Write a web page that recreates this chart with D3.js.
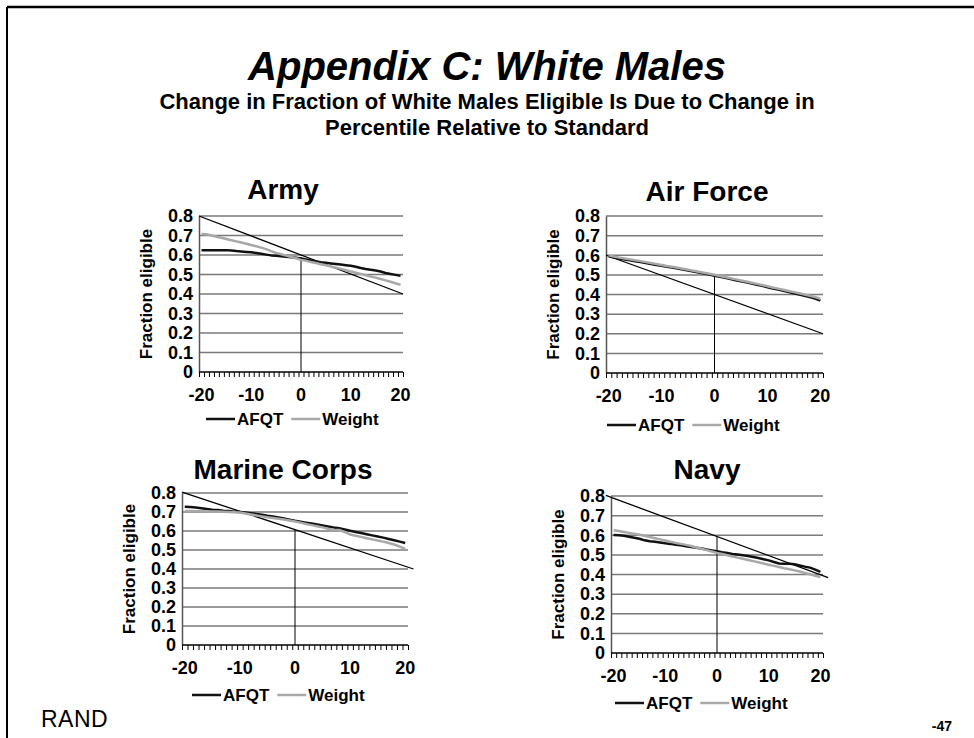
<!DOCTYPE html>
<html>
<head>
<meta charset="utf-8">
<script src="https://cdn.jsdelivr.net/npm/d3@7/dist/d3.min.js"></script>
<style>
  body { margin: 0; background: #fff; }
  svg { display: block; font-family: "Liberation Sans", Arial, sans-serif; }
</style>
</head>
<body>
<div id="chart"></div>
<script>
// Percentile relative to standard (category axis)
const categories = [-20, -19, -18, -17, -16, -15, -14, -13, -12, -11, -10, -9, -8, -7, -6, -5, -4, -3, -2, -1,
    0, 1, 2, 3, 4, 5, 6, 7, 8, 9, 10, 11, 12, 13, 14, 15, 16, 17, 18, 19, 20];
const xTickLabels = [-20, -10, 0, 10, 20];
const yTicks = [0, 0.1, 0.2, 0.3, 0.4, 0.5, 0.6, 0.7, 0.8];
const seriesNames = ['AFQT', 'Weight'];

// Army
const armyAfqt = [0.625, 0.625, 0.625, 0.625, 0.625, 0.625, 0.623, 0.620, 0.618, 0.616, 0.614, 0.610, 0.606, 0.602, 0.598, 0.596, 0.594, 0.591, 0.589, 0.586,
    0.582, 0.577, 0.572, 0.567, 0.563, 0.560, 0.557, 0.554, 0.551, 0.548, 0.545, 0.540, 0.533, 0.528, 0.524, 0.520, 0.515, 0.508, 0.503, 0.498, 0.493];
const armyWeight = [0.708, 0.706, 0.700, 0.694, 0.688, 0.682, 0.676, 0.670, 0.664, 0.658, 0.651, 0.645, 0.638, 0.630, 0.620, 0.611, 0.604, 0.597, 0.590, 0.583,
    0.575, 0.570, 0.564, 0.559, 0.553, 0.547, 0.541, 0.535, 0.529, 0.522, 0.515, 0.509, 0.503, 0.496, 0.490, 0.484, 0.477, 0.470, 0.463, 0.455, 0.447];

// Air Force
const airAfqt = [0.595, 0.588, 0.583, 0.578, 0.574, 0.569, 0.565, 0.560, 0.555, 0.550, 0.546, 0.541, 0.537, 0.532, 0.527, 0.522, 0.517, 0.512, 0.507, 0.502,
    0.496, 0.490, 0.485, 0.479, 0.473, 0.467, 0.462, 0.456, 0.450, 0.444, 0.437, 0.431, 0.425, 0.419, 0.412, 0.406, 0.400, 0.394, 0.387, 0.379, 0.369];
const airWeight = [0.600, 0.593, 0.588, 0.583, 0.579, 0.574, 0.570, 0.565, 0.560, 0.555, 0.550, 0.545, 0.541, 0.536, 0.531, 0.526, 0.521, 0.516, 0.511, 0.506,
    0.501, 0.494, 0.489, 0.483, 0.477, 0.471, 0.466, 0.460, 0.454, 0.448, 0.442, 0.436, 0.430, 0.424, 0.418, 0.412, 0.406, 0.400, 0.394, 0.387, 0.378];

// Marine Corps
const marineAfqt = [0.727, 0.726, 0.724, 0.720, 0.716, 0.712, 0.710, 0.707, 0.705, 0.702, 0.700, 0.697, 0.694, 0.690, 0.685, 0.680, 0.676, 0.671, 0.666, 0.660,
    0.654, 0.649, 0.644, 0.639, 0.634, 0.629, 0.624, 0.619, 0.615, 0.608, 0.601, 0.595, 0.589, 0.583, 0.577, 0.571, 0.565, 0.558, 0.551, 0.544, 0.537];
const marineWeight = [0.705, 0.705, 0.704, 0.704, 0.703, 0.703, 0.702, 0.701, 0.700, 0.699, 0.697, 0.692, 0.687, 0.682, 0.677, 0.672, 0.668, 0.664, 0.660, 0.655,
    0.650, 0.644, 0.637, 0.631, 0.625, 0.619, 0.612, 0.607, 0.605, 0.595, 0.582, 0.575, 0.569, 0.562, 0.556, 0.550, 0.544, 0.537, 0.529, 0.518, 0.506];

// Navy
const navyAfqt = [0.601, 0.600, 0.597, 0.592, 0.587, 0.582, 0.574, 0.569, 0.567, 0.563, 0.559, 0.556, 0.552, 0.549, 0.544, 0.540, 0.536, 0.532, 0.527, 0.523,
    0.518, 0.513, 0.509, 0.505, 0.502, 0.498, 0.494, 0.489, 0.484, 0.478, 0.472, 0.464, 0.456, 0.455, 0.455, 0.452, 0.446, 0.440, 0.435, 0.425, 0.413];
const navyWeight = [0.626, 0.622, 0.617, 0.612, 0.608, 0.603, 0.597, 0.591, 0.585, 0.579, 0.573, 0.567, 0.561, 0.556, 0.551, 0.545, 0.538, 0.531, 0.524, 0.517,
    0.510, 0.504, 0.498, 0.492, 0.486, 0.480, 0.474, 0.468, 0.462, 0.456, 0.450, 0.444, 0.438, 0.432, 0.427, 0.421, 0.415, 0.408, 0.401, 0.394, 0.387];

// Standard reference lines [[x0, y0], [x1, y1]] and height of the marker at 0
const armyRef = [[-20.5, 0.8], [20.5, 0.4]];
const airRef = [[-20.5, 0.6], [20.5, 0.2]];
const marineRef = [[-20.5, 0.805], [21.5, 0.4]];
const navyRef = [[-21.5, 0.803], [21.5, 0.384]];
const markerTops = [0.59, 0.5, 0.607, 0.594];

const panelTitles = ['Army', 'Air Force', 'Marine Corps', 'Navy'];

// Layout of the four plot areas (pixels)
const layout = [
    { left: 199, right: 403, top: 216, bottom: 372, titleX: 283, titleY: 199, legendX: 206, legendY: 419 },
    { left: 606, right: 823, top: 216, bottom: 373, titleX: 707, titleY: 201, legendX: 607, legendY: 425 },
    { left: 182, right: 408, top: 493, bottom: 645, titleX: 283, titleY: 479, legendX: 192, legendY: 695 },
    { left: 611, right: 823, top: 496, bottom: 653, titleX: 707, titleY: 479, legendX: 615, legendY: 703 }
];

const panels = [
    { afqt: armyAfqt, weight: armyWeight, ref: armyRef },
    { afqt: airAfqt, weight: airWeight, ref: airRef },
    { afqt: marineAfqt, weight: marineWeight, ref: marineRef },
    { afqt: navyAfqt, weight: navyWeight, ref: navyRef }
];

const colors = { AFQT: '#111111', Weight: '#a8a8a8' };

const W = 974, H = 738;
const svg = d3.select('#chart').append('svg').attr('width', W).attr('height', H);

// slide frame
svg.append('line').attr('x1', 7).attr('y1', 7).attr('x2', W).attr('y2', 7)
    .attr('stroke', '#000').attr('stroke-width', 2.5);
svg.append('line').attr('x1', 7).attr('y1', 7).attr('x2', 7).attr('y2', H)
    .attr('stroke', '#000').attr('stroke-width', 2);

// headings
svg.append('text').attr('x', 487).attr('y', 80)
    .attr('text-anchor', 'middle').style('font-size', '40px')
    .style('font-weight', 'bold').style('font-style', 'italic')
    .text('Appendix C: White Males');
svg.append('text').attr('x', 487).attr('y', 109)
    .attr('text-anchor', 'middle').style('font-size', '22px').style('font-weight', 'bold')
    .text('Change in Fraction of White Males Eligible Is Due to Change in');
svg.append('text').attr('x', 487).attr('y', 135)
    .attr('text-anchor', 'middle').style('font-size', '22px').style('font-weight', 'bold')
    .text('Percentile Relative to Standard');

svg.append('text').attr('x', 41).attr('y', 727)
    .style('font-size', '23px').style('letter-spacing', '0.5px')
    .text('RAND');
svg.append('text').attr('x', 952).attr('y', 731)
    .attr('text-anchor', 'end').style('font-size', '14px').style('font-weight', 'bold')
    .text('-47');

panels.forEach((p, i) => {
    const L = layout[i];
    const g = svg.append('g');

    const x = d3.scaleBand().domain(categories).range([L.left, L.right]).padding(0);
    const xc = d => x(d) + x.bandwidth() / 2;
    const xLin = d3.scaleLinear().domain([-20.5, 20.5]).range([L.left, L.right]);
    const y = d3.scaleLinear().domain([0, 0.8]).range([L.bottom, L.top]);

    // title
    g.append('text').attr('x', L.titleX).attr('y', L.titleY)
        .attr('text-anchor', 'middle').style('font-size', '28px').style('font-weight', 'bold')
        .text(panelTitles[i]);

    // gridlines
    g.append('g').selectAll('line').data(yTicks.filter(d => d > 0)).enter().append('line')
        .attr('x1', L.left).attr('x2', L.right)
        .attr('y1', d => y(d)).attr('y2', d => y(d))
        .attr('stroke', '#7a7a7a').attr('stroke-width', 1.5);

    // y axis
    const yAxis = g.append('g').attr('transform', `translate(${L.left},0)`)
        .call(d3.axisLeft(y).tickValues(yTicks).tickSize(0).tickPadding(6)
            .tickFormat(d => d === 0 ? '0' : d3.format('.1f')(d)));
    yAxis.select('.domain').attr('stroke', '#555').attr('stroke-width', 1.5);
    yAxis.selectAll('text').style('font-size', '18px').style('font-weight', 'bold')
        .style('font-family', '"Liberation Sans", Arial, sans-serif').attr('fill', '#000');

    // x axis: tick marks between categories
    const xAxis = g.append('g').attr('transform', `translate(0,${L.bottom})`)
        .call(d3.axisBottom(xLin).tickValues(d3.range(-20.5, 21, 1)).tickSize(5).tickFormat(''));
    xAxis.select('.domain').remove();
    xAxis.selectAll('.tick line').attr('stroke', '#000').attr('stroke-width', 1);
    g.append('line').attr('x1', L.left).attr('x2', L.right)
        .attr('y1', L.bottom).attr('y2', L.bottom).attr('stroke', '#000').attr('stroke-width', 1.5);

    // x labels
    g.append('g').selectAll('text').data(xTickLabels).enter().append('text')
        .attr('x', d => xc(d)).attr('y', L.bottom + 29)
        .attr('text-anchor', 'middle').style('font-size', '18px').style('font-weight', 'bold')
        .text(d => d);

    // y title
    g.append('text')
        .attr('transform', `translate(${L.left - 47},${(L.top + L.bottom) / 2}) rotate(-90)`)
        .attr('text-anchor', 'middle').style('font-size', '17px').style('font-weight', 'bold')
        .text('Fraction eligible');

    // standard line and marker at 0
    g.append('line')
        .attr('x1', xLin(p.ref[0][0])).attr('y1', y(p.ref[0][1]))
        .attr('x2', xLin(p.ref[1][0])).attr('y2', y(p.ref[1][1]))
        .attr('stroke', '#000').attr('stroke-width', 1.3);
    g.append('line')
        .attr('x1', xc(0)).attr('x2', xc(0))
        .attr('y1', y(0)).attr('y2', y(markerTops[i]))
        .attr('stroke', '#000').attr('stroke-width', 1);

    // series
    const line = d3.line().x((d, j) => xc(categories[j])).y(d => y(d));
    [['AFQT', p.afqt], ['Weight', p.weight]].forEach(([name, vals]) => {
        g.append('path').datum(vals)
            .attr('fill', 'none').attr('stroke', colors[name])
            .attr('stroke-width', 2.5).attr('stroke-linejoin', 'round')
            .attr('d', line);
    });

    // legend
    const lg = g.append('g').attr('transform', `translate(${L.legendX},${L.legendY})`);
    let cx = 0;
    seriesNames.forEach(name => {
        lg.append('line').attr('x1', cx).attr('x2', cx + 29).attr('y1', 0).attr('y2', 0)
            .attr('stroke', colors[name]).attr('stroke-width', 2.5);
        const t = lg.append('text').attr('x', cx + 31).attr('y', 6)
            .style('font-size', '17px').style('font-weight', 'bold').text(name);
        cx += 31 + t.node().getComputedTextLength() + 8;
    });
});
</script>
</body>
</html>
